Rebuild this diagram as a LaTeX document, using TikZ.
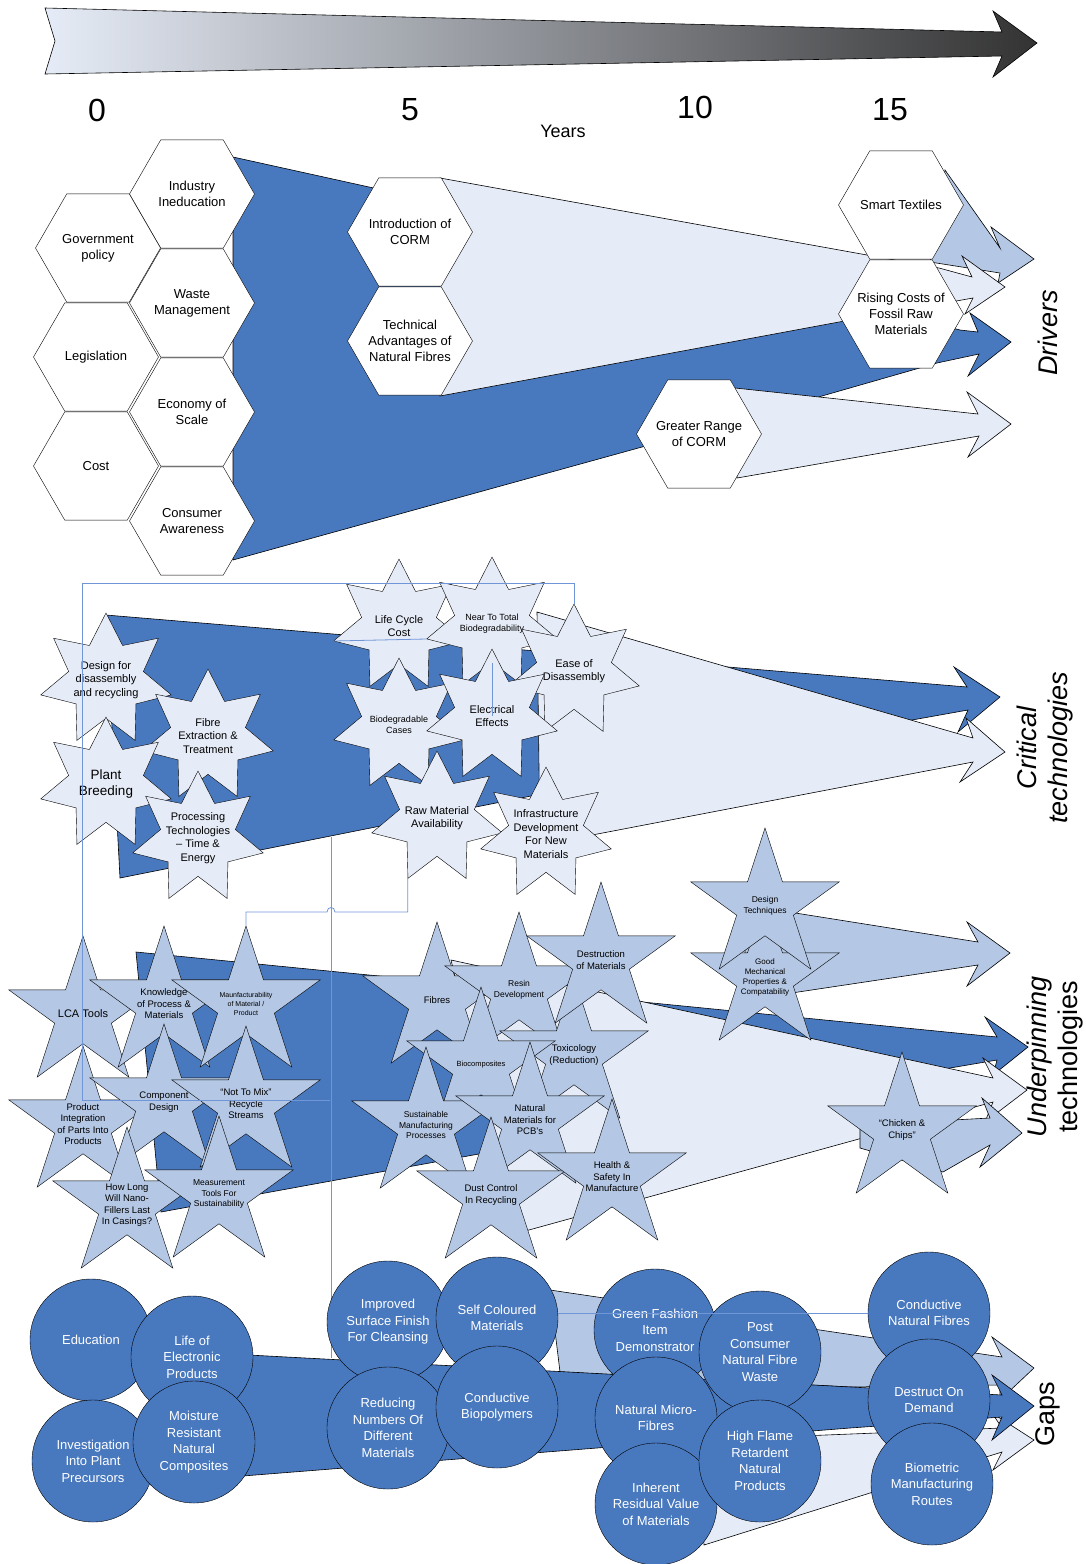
\documentclass[tikz,border=0pt]{standalone}
\usepackage{fontspec}
\setmainfont{Liberation Sans}
\usepackage{tikz}
\usetikzlibrary{shapes.geometric}
\definecolor{bandDark}{HTML}{4878BE}
\definecolor{bandMid}{HTML}{B4C7E4}
\definecolor{bandLight}{HTML}{E6ECF7}
\definecolor{linkBlue}{HTML}{7096D8}

\begin{document}
\begin{tikzpicture}[
                    x=1pt, y=-1pt,
                    hex style/.style={
                        regular polygon,
                        regular polygon sides=6,
                        minimum size=125pt,
                        inner sep=-20pt,
                        draw=black,
                        fill=white,
                        align=center,
                        font=\fontsize{13}{16}\selectfont
                    },
                    crit star/.style={
                        star,
                        star points=7,
                        star point ratio=1.75,
                        minimum size=134pt,
                        inner sep=-18pt,
                        draw=black,
                        fill=bandLight,
                        align=center,
                        font=\fontsize{11}{13.5}\selectfont
                    },
                    under star/.style={
                        star,
                        star points=5,
                        star point ratio=2.618,
                        minimum size=156pt,
                        inner sep=-25pt,
                        draw=black,
                        fill=bandMid,
                        align=center,
                        font=\fontsize{9.5}{11.5}\selectfont
                    },
                    gap circle/.style={
                        circle,
                        minimum size=122pt,
                        inner sep=0pt,
                        draw=black,
                        fill=bandDark,
                        text=white,
                        align=center,
                        font=\fontsize{13}{16.5}\selectfont
                    },
                    band/.style={draw=black, line width=0.6pt, line join=miter},
                    link line/.style={draw=linkBlue, line width=0.8pt},
                    side label/.style={rotate=90, align=center, font=\fontsize{27}{31}\selectfont\itshape},
                    year label/.style={font=\fontsize{32}{36}\selectfont}
                ]
    \useasboundingbox (0,0) rectangle (1086,1564);

    \draw[band, left color=bandLight, right color=black!80]
        (45,8) -- (1002,32) -- (993,11) -- (1037,43) -- (993,77) -- (1002,56) -- (45,74) -- (55,41) -- cycle;
    \node[year label] (y0) at (97,110) {0};
    \node[year label] (y5) at (410,110) {5};
    \node[year label] (y10) at (695,107) {10};
    \node[year label] (y15) at (890,110) {15};
    \node[font=\fontsize{18}{20}\selectfont] (years) at (563,131) {Years};

    \draw[band, fill=bandDark]
        (233,157) -- (700,260) -- (960,330) -- (978,332) -- (970,313) -- (1011,342) -- (968,376)
        -- (979,354) -- (937,363) -- (822,396) -- (642,447) -- (233,560) -- cycle;
    \draw[band, fill=bandMid]
        (945,170) -- (1000,248) -- (991,227) -- (1034,259) -- (998,283) -- (1000,273) -- (930,262) -- cycle;
    \draw[band, fill=bandLight]
        (440,178) -- (939,268) -- (972,277) -- (962,256) -- (1005,287) -- (965,314) -- (973,298)
        -- (839,322) -- (440,396) -- cycle;
    \draw[band, fill=bandLight]
        (735,388) -- (978,414) -- (967,392) -- (1011,424) -- (968,457) -- (979,436) -- (737,478) -- cycle;

    \node[hex style] (ii) at (192,194) {Industry\\Ineducation};
    \node[hex style] (gp) at (98,248) {Government\\policy};
    \node[hex style] (wm) at (192,303) {Waste\\Management};
    \node[hex style] (leg) at (96,357) {Legislation};
    \node[hex style] (eos) at (192,412) {Economy of\\Scale};
    \node[hex style] (cost) at (96,466) {Cost};
    \node[hex style] (ca) at (192,521) {Consumer\\Awareness};
    \node[hex style] (ic) at (410,232) {Introduction of\\CORM};
    \node[hex style] (tanf) at (410,341) {Technical\\Advantages of\\Natural Fibres};
    \node[hex style] (st) at (901,205) {Smart Textiles};
    \node[hex style] (rcf) at (901,314) {Rising Costs of\\Fossil Raw\\Materials};
    \node[hex style] (grc) at (699,434) {Greater Range\\of CORM};

    \draw[band, fill=bandDark]
        (106,615) -- (967,687) -- (954,667) -- (1000,697) -- (958,732) -- (968,710) -- (912,720)
        -- (120,878) -- cycle;
    \draw[band, fill=bandLight]
        (537,612) -- (973,738) -- (966,718) -- (1005,752) -- (960,782) -- (973,762) -- (540,845) -- cycle;

    \node[crit star] (dfd) at (106,680) {Design for\\disassembly\\and recycling};
    \node[crit star] (fet) at (208,736) {Fibre\\Extraction \&\\Treatment};
    \node[crit star, font=\fontsize{13.5}{16.5}\selectfont] (pb) at (106,784) {Plant\\Breeding};
    \node[crit star] (ptte) at (198,838) {Processing\\Technologies\\– Time \&\\Energy};
    \node[crit star] (lcc) at (399,626) {Life Cycle\\Cost};
    \node[crit star, font=\fontsize{9}{11}\selectfont] (ntb) at (492,624) {Near To Total\\Biodegradability};
    \node[crit star] (ead) at (574,671) {Ease of\\Disassembly};
    \node[crit star, font=\fontsize{9}{11.5}\selectfont] (bc) at (399,725) {Biodegradable\\Cases};
    \node[crit star] (ee) at (492,716) {Electrical\\Effects};
    \node[crit star] (rma) at (437,818) {Raw Material\\Availability};
    \node[crit star] (idnm) at (546,834) {Infrastructure\\Development\\For New\\Materials};

    \draw[band, fill=bandDark]
        (136,952) -- (997,1037) -- (985,1017) -- (1028,1047) -- (993,1075) -- (997,1060) -- (950,1068)
        -- (161,1212) -- cycle;
    \draw[band, fill=bandLight]
        (451,960) -- (993,1078) -- (983,1058) -- (1027,1090) -- (985,1122) -- (993,1102) -- (518,1233) -- cycle;
    \draw[band, fill=bandMid]
        (745,905) -- (978,942) -- (967,922) -- (1010,953) -- (967,986) -- (978,965) -- (745,1000) -- cycle;
    \draw[band, fill=bandMid]
        (860,1125) -- (990,1118) -- (982,1098) -- (1022,1133) -- (980,1167) -- (990,1145) -- (943,1172) -- (860,1148) -- cycle;

    \node[under star, font=\fontsize{11}{13}\selectfont] (lca) at (83,1014) {LCA Tools};
    \node[under star] (kpm) at (164,1004) {Knowledge\\of Process \&\\Materials};
    \node[under star, font=\fontsize{7}{9}\selectfont] (maun) at (246,1004) {Maunfacturability\\of Material /\\Product};
    \node[under star] (pip) at (83,1124) {Product\\Integration\\of Parts Into\\Products};
    \node[under star] (cd) at (164,1102) {Component\\Design};
    \node[under star] (ntm) at (246,1104) {“Not To Mix”\\Recycle\\Streams};
    \node[under star] (hlnf) at (127,1205) {How Long\\Will Nano-\\Fillers Last\\In Casings?};
    \node[under star, font=\fontsize{8.5}{10.5}\selectfont] (mts) at (219,1194) {Measurement\\Tools For\\Sustainability};
    \node[under star] (fib) at (437,1000) {Fibres};
    \node[under star, font=\fontsize{8.5}{10.5}\selectfont] (resin) at (519,990) {Resin\\Development};
    \node[under star] (tox) at (574,1055) {Toxicology\\(Reduction)};
    \node[under star] (dom) at (601,960) {Destruction\\of Materials};
    \node[under star, font=\fontsize{7.5}{9}\selectfont] (bio) at (481,1065) {Biocomposites};
    \node[under star, font=\fontsize{8.5}{10.5}\selectfont] (smp) at (426,1125) {Sustainable\\Manufacturing\\Processes};
    \node[under star] (nmp) at (530,1120) {Natural\\Materials for\\PCB’s};
    \node[under star] (dcr) at (491,1195) {Dust Control\\In Recycling};
    \node[under star] (hsm) at (612,1177) {Health \&\\Safety In\\Manufacture};
    \node[under star, font=\fontsize{8}{10}\selectfont] (gmp) at (765,977) {Good\\Mechanical\\Properties \&\\Compatability};
    \node[under star, font=\fontsize{8.5}{10.5}\selectfont] (dt) at (765,906) {Design\\Techniques};
    \node[under star] (cc) at (902,1130) {“Chicken \&\\Chips”};

    \coordinate (hopy) at (0,912);
    \coordinate (critlow) at (331,837);
    \coordinate (gaptop) at (331,1358);
    \draw[link line] (ead.outer point 1) |- (82,583) -- (82,1100) -- (330,1100);
    \draw[link line] (lcc.outer point 3) -- (ntb.outer point 3);
    \draw[link line] (ntb.inner point 4) -- (ee.center);
    \draw[link line] (rma.outer point 4) -- (rma.outer point 4 |- hopy) -- (335,912)
        .. controls (335,906) and (327,906) .. (327,912) -- (maun.outer point 1 |- hopy) -- (maun.outer point 1);
    \draw[link line] (critlow) -- (gaptop);

    \draw[band, fill=bandMid]
        (550,1290) -- (1002,1357) -- (992,1337) -- (1034,1368) -- (1000,1400) -- (1000,1385) -- (850,1387) -- (560,1372) -- cycle;
    \draw[band, fill=bandLight]
        (700,1440) -- (1002,1428) -- (992,1413) -- (1034,1440) -- (993,1470) -- (1002,1452) -- (870,1493) -- (704,1545) -- cycle;
    \draw[band, fill=bandDark]
        (230,1354) -- (1002,1395) -- (992,1375) -- (1034,1406) -- (992,1440) -- (1002,1417) -- (850,1428) -- (230,1477) -- cycle;

    \node[gap circle] (edu) at (91,1340) {Education};
    \node[gap circle] (lep) at (192,1357) {Life of\\Electronic\\Products};
    \node[gap circle] (ipp) at (93,1461) {Investigation\\Into Plant\\Precursors};
    \node[gap circle] (mrnc) at (194,1442) {Moisture\\Resistant\\Natural\\Composites};
    \node[gap circle] (isf) at (388,1322) {Improved\\Surface Finish\\For Cleansing};
    \node[gap circle] (scm) at (497,1318) {Self Coloured\\Materials};
    \node[gap circle] (rnd) at (388,1428) {Reducing\\Numbers Of\\Different\\Materials};
    \node[gap circle] (cbp) at (497,1407) {Conductive\\Biopolymers};
    \node[gap circle] (gfi) at (655,1330) {Green Fashion\\Item\\Demonstrator};
    \node[gap circle] (nmf) at (656,1418) {Natural Micro-\\Fibres};
    \node[gap circle] (irv) at (656,1504) {Inherent\\Residual Value\\of Materials};
    \node[gap circle] (pcw) at (760,1352) {Post\\Consumer\\Natural Fibre\\Waste};
    \node[gap circle] (hfr) at (760,1461) {High Flame\\Retardent\\Natural\\Products};
    \node[gap circle] (cnf) at (929,1313) {Conductive\\Natural Fibres};
    \node[gap circle] (dod) at (929,1400) {Destruct On\\Demand};
    \node[gap circle] (bmr) at (932,1484) {Biometric\\Manufacturing\\Routes};
    \draw[link line] (scm.east |- cnf.west) -- (cnf.west);

    \node[side label] (drivers) at (1048,333) {Drivers};
    \node[side label] (critical) at (1045,748) {Critical\\technologies};
    \node[side label] (underpin) at (1055,1057) {Underpinning\\{\upshape technologies}};
    \node[side label, font=\fontsize{27}{31}\selectfont] (gaps) at (1048,1414) {Gaps};
\end{tikzpicture}
\end{document}
